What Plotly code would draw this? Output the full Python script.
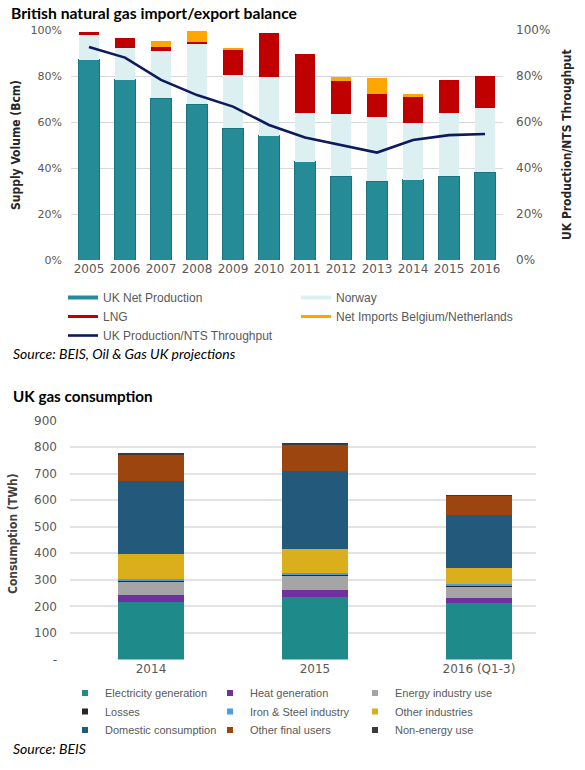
import plotly.graph_objects as go

# ---------------- Chart 1 data ----------------
years = ['2005', '2006', '2007', '2008', '2009', '2010', '2011', '2012', '2013', '2014', '2015', '2016']
uk_net = [87.0, 78.3, 70.3, 67.7, 57.2, 54.0, 42.7, 36.5, 34.3, 34.8, 36.5, 38.1]
norway = [11.0, 13.7, 20.7, 26.3, 23.1, 25.4, 21.1, 26.8, 28.0, 24.6, 27.5, 27.9]
lng = [1.3, 4.4, 1.7, 1.0, 11.1, 19.4, 25.8, 14.7, 9.7, 11.3, 14.1, 13.8]
bel_ned = [0, 0, 2.6, 4.7, 0.6, 0, 0, 1.4, 7.0, 1.3, 0, 0]
nts_ratio = [92.6, 88.0, 78.3, 71.7, 66.7, 58.7, 53.3, 50.0, 46.7, 52.2, 54.3, 54.8]
pct_ticks = [0, 20, 40, 60, 80, 100]
pct_labels = ['0%', '20%', '40%', '60%', '80%', '100%']

# ---------------- Chart 2 data ----------------
periods = ['2014', '2015', '2016 (Q1-3)']
electricity = [218, 237, 212]
heat = [25, 24, 18]
energy_ind = [54, 56, 48]
losses = [4, 4, 4]
iron_steel = [3, 4, 2]
other_ind = [93, 93, 60]
domestic = [275, 290, 202]
other_final = [102, 105, 72]
non_energy = [3, 3, 3]
twh_ticks = [0, 100, 200, 300, 400, 500, 600, 700, 800, 900]
twh_text = ['-', '100', '200', '300', '400', '500', '600', '700', '800', '900']

W, H = 585, 770
def px_x(v):
    return v / W
def px_y(v):
    return 1 - v / H

GRAY = '#595959'
fig = go.Figure()

# Chart 1 bars
c1 = [('UK Net Production', uk_net, '#258b97', 4),
      ('Norway', norway, '#dcf0f1', 4),
      ('LNG', lng, '#c00000', 3),
      ('Net Imports Belgium/Netherlands', bel_ned, '#ffa500', 3)]
for name, vals, col, lw in c1:
    fig.add_trace(go.Bar(x=years, y=vals, name=name, marker_color=col,
                         marker_line_width=1 if name == 'UK Net Production' else 0,
                         marker_line_color='#1a7480',
                         showlegend=False, xaxis='x', yaxis='y'))
fig.add_trace(go.Scatter(x=years, y=nts_ratio, mode='lines', name='UK Production/NTS Throughput',
                         line=dict(color='#0d1a5c', width=2.6), showlegend=False,
                         xaxis='x', yaxis='y2'))
# legend entries (line style as in the reference)
for name, vals, col, lw in c1:
    fig.add_trace(go.Scatter(x=[None], y=[None], mode='lines', name=name,
                             line=dict(color=col, width=lw), legend='legend',
                             xaxis='x', yaxis='y'))
fig.add_trace(go.Scatter(x=[None], y=[None], mode='lines', name='UK Production/NTS Throughput',
                         line=dict(color='#0d1a5c', width=2.6), legend='legend',
                         xaxis='x', yaxis='y'))

# Chart 2 bars
c2 = [('Electricity generation', electricity, '#1f8a8a'),
      ('Heat generation', heat, '#7030a0'),
      ('Energy industry use', energy_ind, '#a5a5a5'),
      ('Losses', losses, '#262626'),
      ('Iron & Steel industry', iron_steel, '#4a9ee0'),
      ('Other industries', other_ind, '#dbae1c'),
      ('Domestic consumption', domestic, '#235a7b'),
      ('Other final users', other_final, '#9c450f'),
      ('Non-energy use', non_energy, '#3a3a3a')]
for name, vals, col in c2:
    fig.add_trace(go.Bar(x=periods, y=vals, name=name, marker_color=col, marker_line_width=0,
                         width=0.4, showlegend=False, xaxis='x2', yaxis='y3'))
row_legends = ['legend2', 'legend3', 'legend4']
for i, (name, vals, col) in enumerate(c2):
    fig.add_trace(go.Scatter(x=[None], y=[None], mode='markers', name=name,
                             marker=dict(color=col, size=6, symbol='square'),
                             legend=row_legends[i // 3], xaxis='x2', yaxis='y3'))

tickfont1 = dict(family='DejaVu Sans', size=11, color=GRAY)
leg2_common = dict(orientation='h', x=px_x(65), xanchor='left', yanchor='middle',
                   entrywidth=100, entrywidthmode='pixels', traceorder='normal',
                   font=dict(family='Liberation Sans', size=11, color=GRAY),
                   bgcolor='rgba(0,0,0,0)', itemwidth=30)
fig.update_layout(
    width=W, height=H, margin=dict(l=0, r=0, t=0, b=0, autoexpand=False),
    paper_bgcolor='white', plot_bgcolor='white',
    barmode='stack', bargap=0.42,
    xaxis=dict(domain=[px_x(71), px_x(503)], anchor='y', type='category',
               tickfont=dict(family='DejaVu Sans', size=12, color=GRAY),
               showgrid=False, showline=False, ticks=''),
    yaxis=dict(domain=[px_y(260), px_y(30)], anchor='x', range=[0, 100],
               tickvals=pct_ticks, ticktext=pct_labels, tickfont=tickfont1,
               showgrid=True, gridcolor='#d9d9d9', gridwidth=1, zeroline=False,
               ticklabelstandoff=8),
    yaxis2=dict(overlaying='y', side='right', anchor='x', range=[0, 100],
                tickvals=pct_ticks, ticktext=pct_labels,
                tickfont=dict(family='DejaVu Sans', size=12, color=GRAY),
                showgrid=False, zeroline=False, ticklabelstandoff=12),
    xaxis2=dict(domain=[px_x(70), px_x(536)], anchor='y3', type='category',
                range=[-0.494, 2.348],
                tickfont=dict(family='DejaVu Sans', size=12, color=GRAY),
                showgrid=False, showline=False, ticks=''),
    yaxis3=dict(domain=[px_y(659.5), px_y(420.5)], anchor='x2', range=[0, 900],
                tickvals=twh_ticks, ticktext=twh_text,
                tickfont=dict(family='DejaVu Sans', size=12, color=GRAY),
                showgrid=True, gridcolor='#e3e3e3', gridwidth=1.5, zeroline=False,
                ticklabelstandoff=12),
    legend=dict(orientation='h', x=px_x(63), y=px_y(283), xanchor='left', yanchor='top',
                entrywidth=188, entrywidthmode='pixels', traceorder='normal',
                font=dict(family='Liberation Sans', size=12, color=GRAY),
                bgcolor='rgba(0,0,0,0)', tracegroupgap=0, itemwidth=30),
    legend2=dict(y=px_y(693), **leg2_common),
    legend3=dict(y=px_y(711.5), **leg2_common),
    legend4=dict(y=px_y(730), **leg2_common),
    showlegend=True,
)

ann = [
    dict(text='<b>British natural gas import/export balance</b>', x=px_x(9), y=px_y(12.5),
         xanchor='left', yanchor='middle', font=dict(family='Lato', size=15.7, color='black')),
    dict(text='<i>Source: BEIS, Oil &amp; Gas UK projections</i>', x=px_x(11), y=px_y(353),
         xanchor='left', yanchor='middle', font=dict(family='Lato', size=14, color='black')),
    dict(text='<b>UK gas consumption</b>', x=px_x(11), y=px_y(396),
         xanchor='left', yanchor='middle', font=dict(family='Lato', size=15.2, color='black')),
    dict(text='<i>Source: BEIS</i>', x=px_x(11), y=px_y(748),
         xanchor='left', yanchor='middle', font=dict(family='Lato', size=14, color='black')),
    dict(text='<b>Supply Volume (Bcm)</b>', x=px_x(16), y=px_y(145), textangle=-90,
         xanchor='center', yanchor='middle',
         font=dict(family='Liberation Sans Narrow, DejaVu Sans Condensed', size=12, color='#262626')),
    dict(text='<b>UK Production/NTS Throughput</b>', x=px_x(567), y=px_y(145), textangle=-90,
         xanchor='center', yanchor='middle',
         font=dict(family='Liberation Sans Narrow, DejaVu Sans Condensed', size=12, color='#262626')),
    dict(text='<b>Consumption (TWh)</b>', x=px_x(13), y=px_y(534), textangle=-90,
         xanchor='center', yanchor='middle',
         font=dict(family='Liberation Sans Narrow, DejaVu Sans Condensed', size=12, color='#404040')),
]
for a in ann:
    a.update(xref='paper', yref='paper', showarrow=False)
    fig.add_annotation(**a)

fig.write_html('out.html')
